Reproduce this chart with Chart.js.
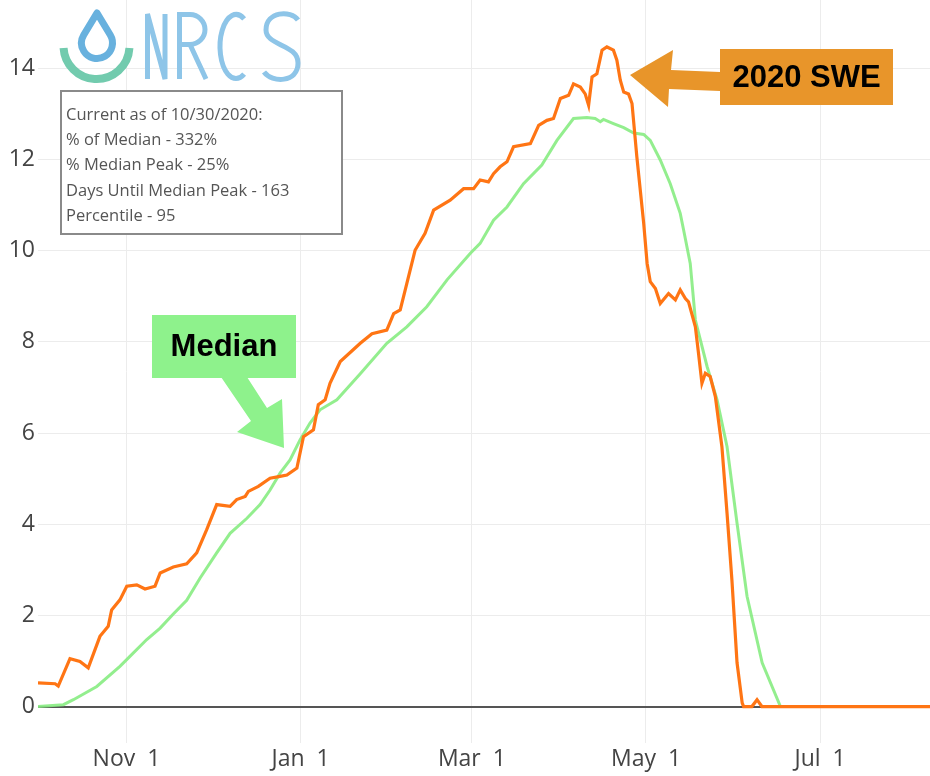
<!DOCTYPE html>
<html>
<head>
<meta charset="utf-8">
<script src="https://cdn.jsdelivr.net/npm/chart.js@4"></script>
<style>
  html, body { margin: 0; padding: 0; background: #fff; }
  #wrap { position: relative; width: 930px; height: 776px; }
</style>
</head>
<body>
<div id="wrap"><canvas id="chart" width="930" height="776"></canvas></div>
<script>
// days are counted from Oct 1 of the water year
const sweDays = [0, 6, 7.1, 11.2, 14.7, 17.6, 21.7, 24.6, 25.8, 28.7, 31.1, 34.6, 37.5, 41, 42.8, 47.4, 52.1, 55.6, 59.1, 62.6,
  67.3, 69.6, 72.6, 73.7, 77.2, 81.3, 84.8, 87.2, 90.7, 93, 96.5, 98.2, 100.6, 102.3, 105.9, 112.9, 117, 122.2, 124.6, 126.9,
  129.2, 132.1, 135.6, 138.6, 144.4, 149.1, 152.6, 154.9, 157.8, 159.6, 161.9, 164.3, 166.6, 172.5, 175.4, 178.3, 180.6, 183, 185.9, 187.6,
  190, 191.7, 192.9, 194.1, 195.8, 197.6, 199.3, 201.6, 202.8, 204, 205.2, 206.9, 208.1, 209.8, 212.2, 213.4, 214.5, 216.3, 218, 220.9,
  223.3, 225, 226.8, 227.9, 230.3, 231.4, 232.6, 233.8, 235.5, 237.3, 239.6, 241.4, 243.1, 244.9, 246.7, 247.2, 250.1, 251.9, 253.6, 312.5];
const sweValues = [0.52, 0.50, 0.45, 1.05, 0.99, 0.85, 1.54, 1.76, 2.12, 2.34, 2.64, 2.67, 2.58, 2.64, 2.93, 3.06, 3.13, 3.37, 3.88, 4.43,
  4.39, 4.54, 4.61, 4.72, 4.83, 5.01, 5.05, 5.08, 5.23, 5.92, 6.07, 6.62, 6.73, 7.09, 7.57, 7.97, 8.18, 8.26, 8.62, 8.70,
  9.28, 10.01, 10.38, 10.89, 11.11, 11.36, 11.36, 11.55, 11.51, 11.69, 11.84, 11.95, 12.28, 12.35, 12.75, 12.86, 12.90, 13.34, 13.41, 13.66,
  13.59, 13.44, 13.19, 13.81, 13.88, 14.40, 14.47, 14.40, 14.18, 13.74, 13.48, 13.44, 13.23, 12.06, 10.60, 9.72, 9.32, 9.17, 8.84, 9.06,
  8.92, 9.14, 8.95, 8.88, 8.33, 7.75, 7.09, 7.31, 7.24, 6.80, 5.70, 4.24, 2.78, 0.96, 0.08, 0, 0, 0.15, 0, 0];

const medianDays = [0, 8.9, 12.4, 20.6, 28.7, 32.2, 38.1, 42.8, 47.4, 52.1, 56.8, 62.6, 67.3, 73.2, 77.8, 81.3, 84.8, 88.3, 91.8, 95.3,
  98.8, 104.7, 112.9, 122.2, 129.2, 136.2, 143.3, 151.4, 154.9, 159.6, 164.3, 170.1, 176.5, 181.8, 187.6, 192.3, 195.2, 197, 198.1, 201.6,
  205.2, 208.7, 212.2, 214.5, 218, 221.5, 225, 226.2, 228.5, 230.3, 234.4, 237.9, 241.4, 244.9, 248.4, 253.7, 260.1, 312.5];
const medianValues = [0, 0.04, 0.15, 0.44, 0.88, 1.10, 1.47, 1.72, 2.03, 2.33, 2.82, 3.37, 3.80, 4.13, 4.43, 4.75, 5.12, 5.41, 5.85, 6.22,
  6.51, 6.73, 7.3, 7.97, 8.33, 8.77, 9.36, 9.94, 10.16, 10.67, 10.96, 11.47, 11.88, 12.42, 12.90, 12.92, 12.90, 12.83, 12.88, 12.79,
  12.70, 12.58, 12.55, 12.42, 11.99, 11.47, 10.82, 10.45, 9.72, 8.48, 7.46, 6.73, 5.70, 4.02, 2.42, 0.96, 0, 0];

const tickDays = [31, 92, 152, 213, 274];
const tickLabels = ['Nov  1', 'Jan  1', 'Mar  1', 'May  1', 'Jul  1'];
const yTicks = [0, 2, 4, 6, 8, 10, 12, 14];

const infoLines = [
  'Current as of 10/30/2020:',
  '% of Median - 332%',
  '% Median Peak - 25%',
  'Days Until Median Peak - 163',
  'Percentile - 95'
];

const toPoints = (xs, ys) => xs.map((x, i) => ({ x: x, y: ys[i] }));

function drawLogo(ctx) {
  ctx.save();
  ctx.lineCap = 'butt';
  // teal bowl
  ctx.strokeStyle = '#72cbae';
  ctx.lineWidth = 8;
  ctx.beginPath();
  ctx.arc(96.5, 46, 33, 0.06, Math.PI - 0.06);
  ctx.stroke();
  // drop
  ctx.strokeStyle = '#68b1de';
  ctx.lineWidth = 7;
  ctx.lineJoin = 'round';
  ctx.beginPath();
  ctx.moveTo(97, 13);
  ctx.arc(97, 43, 15.5, -0.54, Math.PI + 0.54);
  ctx.closePath();
  ctx.stroke();
  // NRCS letters
  ctx.strokeStyle = '#8ec5e8';
  ctx.lineWidth = 5;
  ctx.lineJoin = 'miter';
  ctx.miterLimit = 1.5;
  ctx.beginPath();
  ctx.moveTo(147.5, 79); ctx.lineTo(147.5, 14); ctx.lineTo(165, 79); ctx.lineTo(165, 14);
  ctx.stroke();
  ctx.beginPath();
  ctx.moveTo(179.5, 79); ctx.lineTo(179.5, 14.5); ctx.lineTo(190, 14.5);
  ctx.arc(190, 29.5, 15, -Math.PI / 2, Math.PI / 2);
  ctx.lineTo(179.5, 44.5);
  ctx.moveTo(190, 44.5); ctx.lineTo(206, 79);
  ctx.stroke();
  ctx.beginPath();
  ctx.ellipse(236, 46.5, 16, 32, 0, -0.33 * Math.PI, 0.33 * Math.PI, true);
  ctx.stroke();
  ctx.beginPath();
  ctx.moveTo(298, 20);
  ctx.bezierCurveTo(291, 10, 266, 11, 266, 30);
  ctx.bezierCurveTo(266, 46, 298, 44, 298, 63);
  ctx.bezierCurveTo(298, 83, 272, 83, 264, 72);
  ctx.stroke();
  ctx.restore();
}

function drawInfo(ctx) {
  ctx.save();
  ctx.fillStyle = '#fff';
  ctx.fillRect(61, 91, 281, 143);
  ctx.strokeStyle = '#8a8a8a';
  ctx.lineWidth = 2;
  ctx.strokeRect(61, 91, 281, 143);
  ctx.fillStyle = '#555';
  ctx.font = '16.5px "Open Sans"';
  ctx.textBaseline = 'middle';
  infoLines.forEach((t, i) => ctx.fillText(t, 66, 115 + i * 25.3));
  ctx.restore();
}

function drawCallout(ctx, box, color, text, arrow) {
  ctx.save();
  ctx.fillStyle = color;
  ctx.fillRect(box[0], box[1], box[2], box[3]);
  ctx.beginPath();
  arrow.forEach((p, i) => i ? ctx.lineTo(p[0], p[1]) : ctx.moveTo(p[0], p[1]));
  ctx.closePath();
  ctx.fill();
  ctx.fillStyle = '#000';
  ctx.font = 'bold 31px "Liberation Sans"';
  ctx.textAlign = 'center';
  ctx.textBaseline = 'middle';
  ctx.fillText(text, box[0] + box[2] / 2, box[1] + box[3] / 2 + 1);
  ctx.restore();
}

const overlay = {
  id: 'overlay',
  afterDraw(chart) {
    const ctx = chart.ctx;
    drawLogo(ctx);
    drawInfo(ctx);
    drawCallout(ctx, [720, 49, 173, 56], '#e8952a', '2020 SWE',
      [[630, 75], [673, 50], [671, 70], [720, 72], [720, 91], [669, 89], [668, 107]]);
    drawCallout(ctx, [152, 315, 144, 63], '#8ef28c', 'Median',
      [[221, 377], [247, 377], [267, 408], [282, 399], [284, 448], [237, 432], [251, 421]]);
  }
};

const tickFont = { family: '"Open Sans"', size: 23 };

new Chart(document.getElementById('chart'), {
  type: 'line',
  data: {
    datasets: [
      {
        label: '2020 SWE',
        data: toPoints(sweDays, sweValues),
        borderColor: '#ff7514',
        borderWidth: 3.2,
        pointRadius: 0,
        tension: 0
      },
      {
        label: 'Median',
        data: toPoints(medianDays, medianValues),
        borderColor: 'rgba(135, 236, 130, 0.9)',
        borderWidth: 3,
        pointRadius: 0,
        tension: 0
      }
    ]
  },
  options: {
    responsive: false,
    animation: false,
    layout: { padding: 0 },
    plugins: {
      legend: { display: false },
      tooltip: { enabled: false }
    },
    scales: {
      x: {
        type: 'linear',
        min: 0,
        max: 312.5,
        afterBuildTicks: s => { s.ticks = tickDays.map(v => ({ value: v })); },
        afterFit: s => { s.height = 33; s.paddingLeft = 0; s.paddingRight = 0; },
        border: { display: false },
        grid: { color: '#ececec', lineWidth: 1, drawTicks: false },
        ticks: {
          font: tickFont,
          color: '#444',
          padding: 3,
          maxRotation: 0,
          autoSkip: false,
          callback: (v, i) => tickLabels[i]
        }
      },
      y: {
        min: -0.8,
        max: 15.5,
        afterBuildTicks: s => { s.ticks = yTicks.map(v => ({ value: v })); },
        afterFit: s => { s.width = 38; s.paddingTop = 0; s.paddingBottom = 0; },
        border: { display: false },
        grid: {
          color: c => c.tick && c.tick.value === 0 ? '#555' : '#ececec',
          lineWidth: c => c.tick && c.tick.value === 0 ? 2 : 1,
          drawTicks: false
        },
        ticks: {
          font: tickFont,
          color: '#444',
          padding: 3,
          callback: v => String(v)
        }
      }
    }
  },
  plugins: [overlay]
});
</script>
</body>
</html>
